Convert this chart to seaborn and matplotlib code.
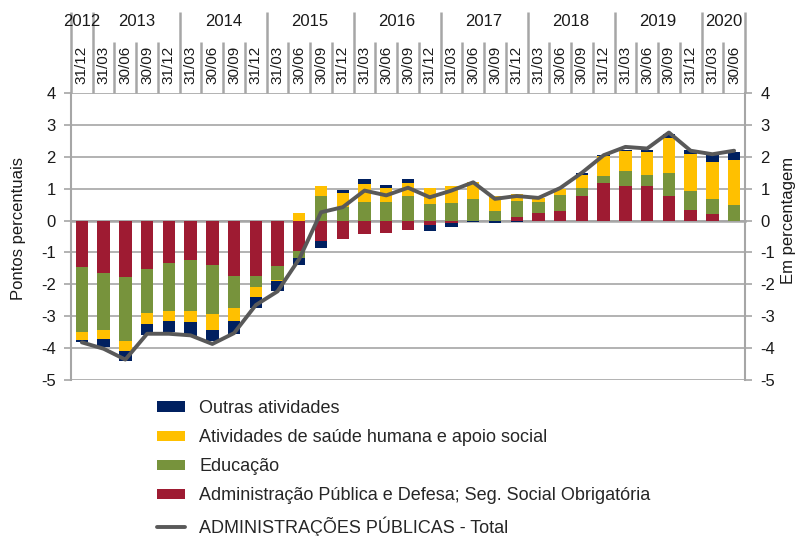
import numpy as np
import pandas as pd
import matplotlib
matplotlib.use("Agg")
import matplotlib.pyplot as plt
import matplotlib.transforms as mtransforms
from matplotlib.patches import Patch
from matplotlib.lines import Line2D
import seaborn as sns

# ---------------- data ----------------
periods = ["31/12",
           "31/03", "30/06", "30/09", "31/12",
           "31/03", "30/06", "30/09", "31/12",
           "31/03", "30/06", "30/09", "31/12",
           "31/03", "30/06", "30/09", "31/12",
           "31/03", "30/06", "30/09", "31/12",
           "31/03", "30/06", "30/09", "31/12",
           "31/03", "30/06", "30/09", "31/12",
           "31/03", "30/06"]
years = ["2012", "2013", "2014", "2015", "2016", "2017", "2018", "2019", "2020"]
year_counts = [1, 4, 4, 4, 4, 4, 4, 4, 2]

admin = [-1.46, -1.65, -1.78, -1.52, -1.34, -1.24, -1.39, -1.73, -1.73, -1.42,
         -0.94, -0.64, -0.59, -0.42, -0.38, -0.29, -0.15, -0.07, -0.02, -0.02,
         0.10, 0.24, 0.31, 0.77, 1.18, 1.07, 1.07, 0.77, 0.34, 0.21, 0.00]
educ = [-2.03, -1.79, -1.99, -1.39, -1.49, -1.61, -1.53, -1.02, -0.35, -0.44,
        -0.22, 0.77, 0.42, 0.58, 0.58, 0.77, 0.52, 0.56, 0.69, 0.29,
        0.50, 0.34, 0.49, 0.25, 0.21, 0.49, 0.36, 0.71, 0.58, 0.47, 0.50]
saude = [-0.27, -0.27, -0.33, -0.32, -0.31, -0.34, -0.50, -0.41, -0.31, -0.05,
         0.24, 0.31, 0.45, 0.57, 0.45, 0.40, 0.51, 0.52, 0.53, 0.48,
         0.22, 0.12, 0.19, 0.42, 0.62, 0.61, 0.71, 1.12, 1.16, 1.15, 1.40]
outras = [-0.04, -0.27, -0.29, -0.35, -0.37, -0.42, -0.37, -0.40, -0.36, -0.31,
          -0.24, -0.22, 0.08, 0.15, 0.10, 0.13, -0.18, -0.12, -0.01, -0.05,
          -0.06, -0.02, 0.00, 0.04, 0.05, 0.03, 0.07, 0.10, 0.13, 0.22, 0.24]
total = [-3.82, -4.02, -4.36, -3.55, -3.55, -3.60, -3.87, -3.53, -2.65, -2.22,
         -1.20, 0.26, 0.42, 0.94, 0.79, 1.03, 0.73, 0.94, 1.20, 0.68,
         0.77, 0.71, 1.02, 1.50, 2.05, 2.31, 2.26, 2.76, 2.19, 2.08, 2.19]

series_names = ["Administração Pública e Defesa; Seg. Social Obrigatória",
                "Educação",
                "Atividades de saúde humana e apoio social",
                "Outras atividades"]
total_name = "ADMINISTRAÇÕES PÚBLICAS - Total"
left_label = "Pontos percentuais"
right_label = "Em percentagem"
colors = ["#9E1B32", "#77933C", "#FFC000", "#002060"]
line_color = "#595959"
grid_color = "#A6A6A6"

# ---------------- figure ----------------
sns.set_style("white")
plt.rcParams["font.family"] = ["Liberation Sans", "DejaVu Sans"]

fig = plt.figure(figsize=(8.0, 5.36), dpi=100)
ax = fig.add_axes([71 / 800, 1 - 380 / 536, 674 / 800, 287 / 536])

n = len(periods)
idx = list(range(n))
parts = [admin, educ, saude, outras]
pos = np.array([[max(v, 0) for v in p] for p in parts])
neg = np.array([[min(v, 0) for v in p] for p in parts])
cum_pos = np.cumsum(pos, axis=0)
cum_neg = np.cumsum(neg, axis=0)

for k in range(3, -1, -1):
    df_p = pd.DataFrame({"x": idx, "y": cum_pos[k]})
    df_n = pd.DataFrame({"x": idx, "y": cum_neg[k]})
    sns.barplot(data=df_p, x="x", y="y", color=colors[k], width=0.57,
                saturation=1, errorbar=None, linewidth=0, ax=ax, zorder=2)
    sns.barplot(data=df_n, x="x", y="y", color=colors[k], width=0.57,
                saturation=1, errorbar=None, linewidth=0, ax=ax, zorder=2)

df_t = pd.DataFrame({"x": idx, "y": total})
sns.lineplot(data=df_t, x="x", y="y", color=line_color, linewidth=2.8,
             ax=ax, zorder=4)

ax.set_xlim(-0.5, n - 0.5)
ax.set_ylim(-5, 4)
ax.set_yticks(range(-5, 5))
ax.set_yticklabels([str(v) for v in range(-5, 5)], fontsize=12)
ax.set_xlabel("")
ax.set_ylabel("")
ax.yaxis.grid(True, color=grid_color, linewidth=1.2, zorder=0)
ax.set_axisbelow(True)

# category axis at zero with boundary ticks
ax.spines["bottom"].set_position(("data", 0))
ax.spines["bottom"].set_color(grid_color)
ax.spines["bottom"].set_linewidth(1.8)
ax.spines["bottom"].set_zorder(1)
ax.set_xticks([i - 0.5 for i in range(n + 1)])
ax.set_xticklabels([])
ax.tick_params(axis="x", length=4, width=1.5, color=grid_color, direction="out")
ax.spines["top"].set_visible(False)
ax.spines["right"].set_visible(False)
ax.spines["left"].set_color(grid_color)
ax.spines["left"].set_linewidth(1.5)
ax.tick_params(axis="y", length=5, width=1.2, color=grid_color, direction="out",
               labelcolor="#1a1a1a", pad=6)

ax2 = ax.twinx()
ax2.set_ylim(-5, 4)
ax2.set_yticks(range(-5, 5))
ax2.set_yticklabels([str(v) for v in range(-5, 5)], fontsize=12)
for s in ["top", "bottom", "left"]:
    ax2.spines[s].set_visible(False)
ax2.spines["right"].set_color(grid_color)
ax2.spines["right"].set_linewidth(1.5)
ax2.tick_params(axis="y", length=5, width=1.2, color=grid_color, direction="out",
                labelcolor="#1a1a1a", pad=6)

fig.text(19 / 800, 1 - 228 / 536, left_label, rotation=90, ha="center",
         va="center", fontsize=12, color="#1a1a1a")
fig.text(789 / 800, 1 - 220 / 536, right_label, rotation=90, ha="center",
         va="center", fontsize=12, color="#1a1a1a")

# ---------------- header (years / quarters) ----------------
trans = mtransforms.blended_transform_factory(ax.transData, ax.transAxes)
y_year_top = (380 - 12) / 287
y_q_top = (380 - 42) / 287
y_year_txt = (380 - 22) / 287
y_q_txt = (380 - 65) / 287

start = 0
bounds = [-0.5]
for yr, c in zip(years, year_counts):
    center = start + (c - 1) / 2
    ax.text(center, y_year_txt, yr, transform=trans, ha="center", va="center",
            fontsize=12, color="#1a1a1a", clip_on=False)
    start += c
    bounds.append(start - 0.5)

for b in bounds:
    ax.plot([b, b], [1.0, y_year_top], transform=trans, color=grid_color,
            lw=1.8, clip_on=False, solid_capstyle="butt")
for i in range(1, n):
    b = i - 0.5
    if b not in bounds:
        ax.plot([b, b], [1.0, y_q_top], transform=trans, color=grid_color,
                lw=1.8, clip_on=False, solid_capstyle="butt")
for i, lab in enumerate(periods):
    ax.text(i, y_q_txt, lab, transform=trans, ha="center", va="center",
            rotation=90, fontsize=11, color="#1a1a1a", clip_on=False)

# ---------------- legend ----------------
handles = [Patch(facecolor=colors[3], edgecolor="none"),
           Patch(facecolor=colors[2], edgecolor="none"),
           Patch(facecolor=colors[1], edgecolor="none"),
           Patch(facecolor=colors[0], edgecolor="none"),
           Line2D([0], [0], color=line_color, lw=2.8)]
labels = [series_names[3], series_names[2], series_names[1], series_names[0], total_name]
fig.legend(handles, labels, loc="upper left",
           bbox_to_anchor=(157 / 800, 1 - 400 / 536),
           frameon=False, fontsize=13, handlelength=1.55, handleheight=0.5,
           handletextpad=0.78, labelspacing=0.67, borderpad=0, borderaxespad=0)

fig.savefig("out.png", dpi=100)
